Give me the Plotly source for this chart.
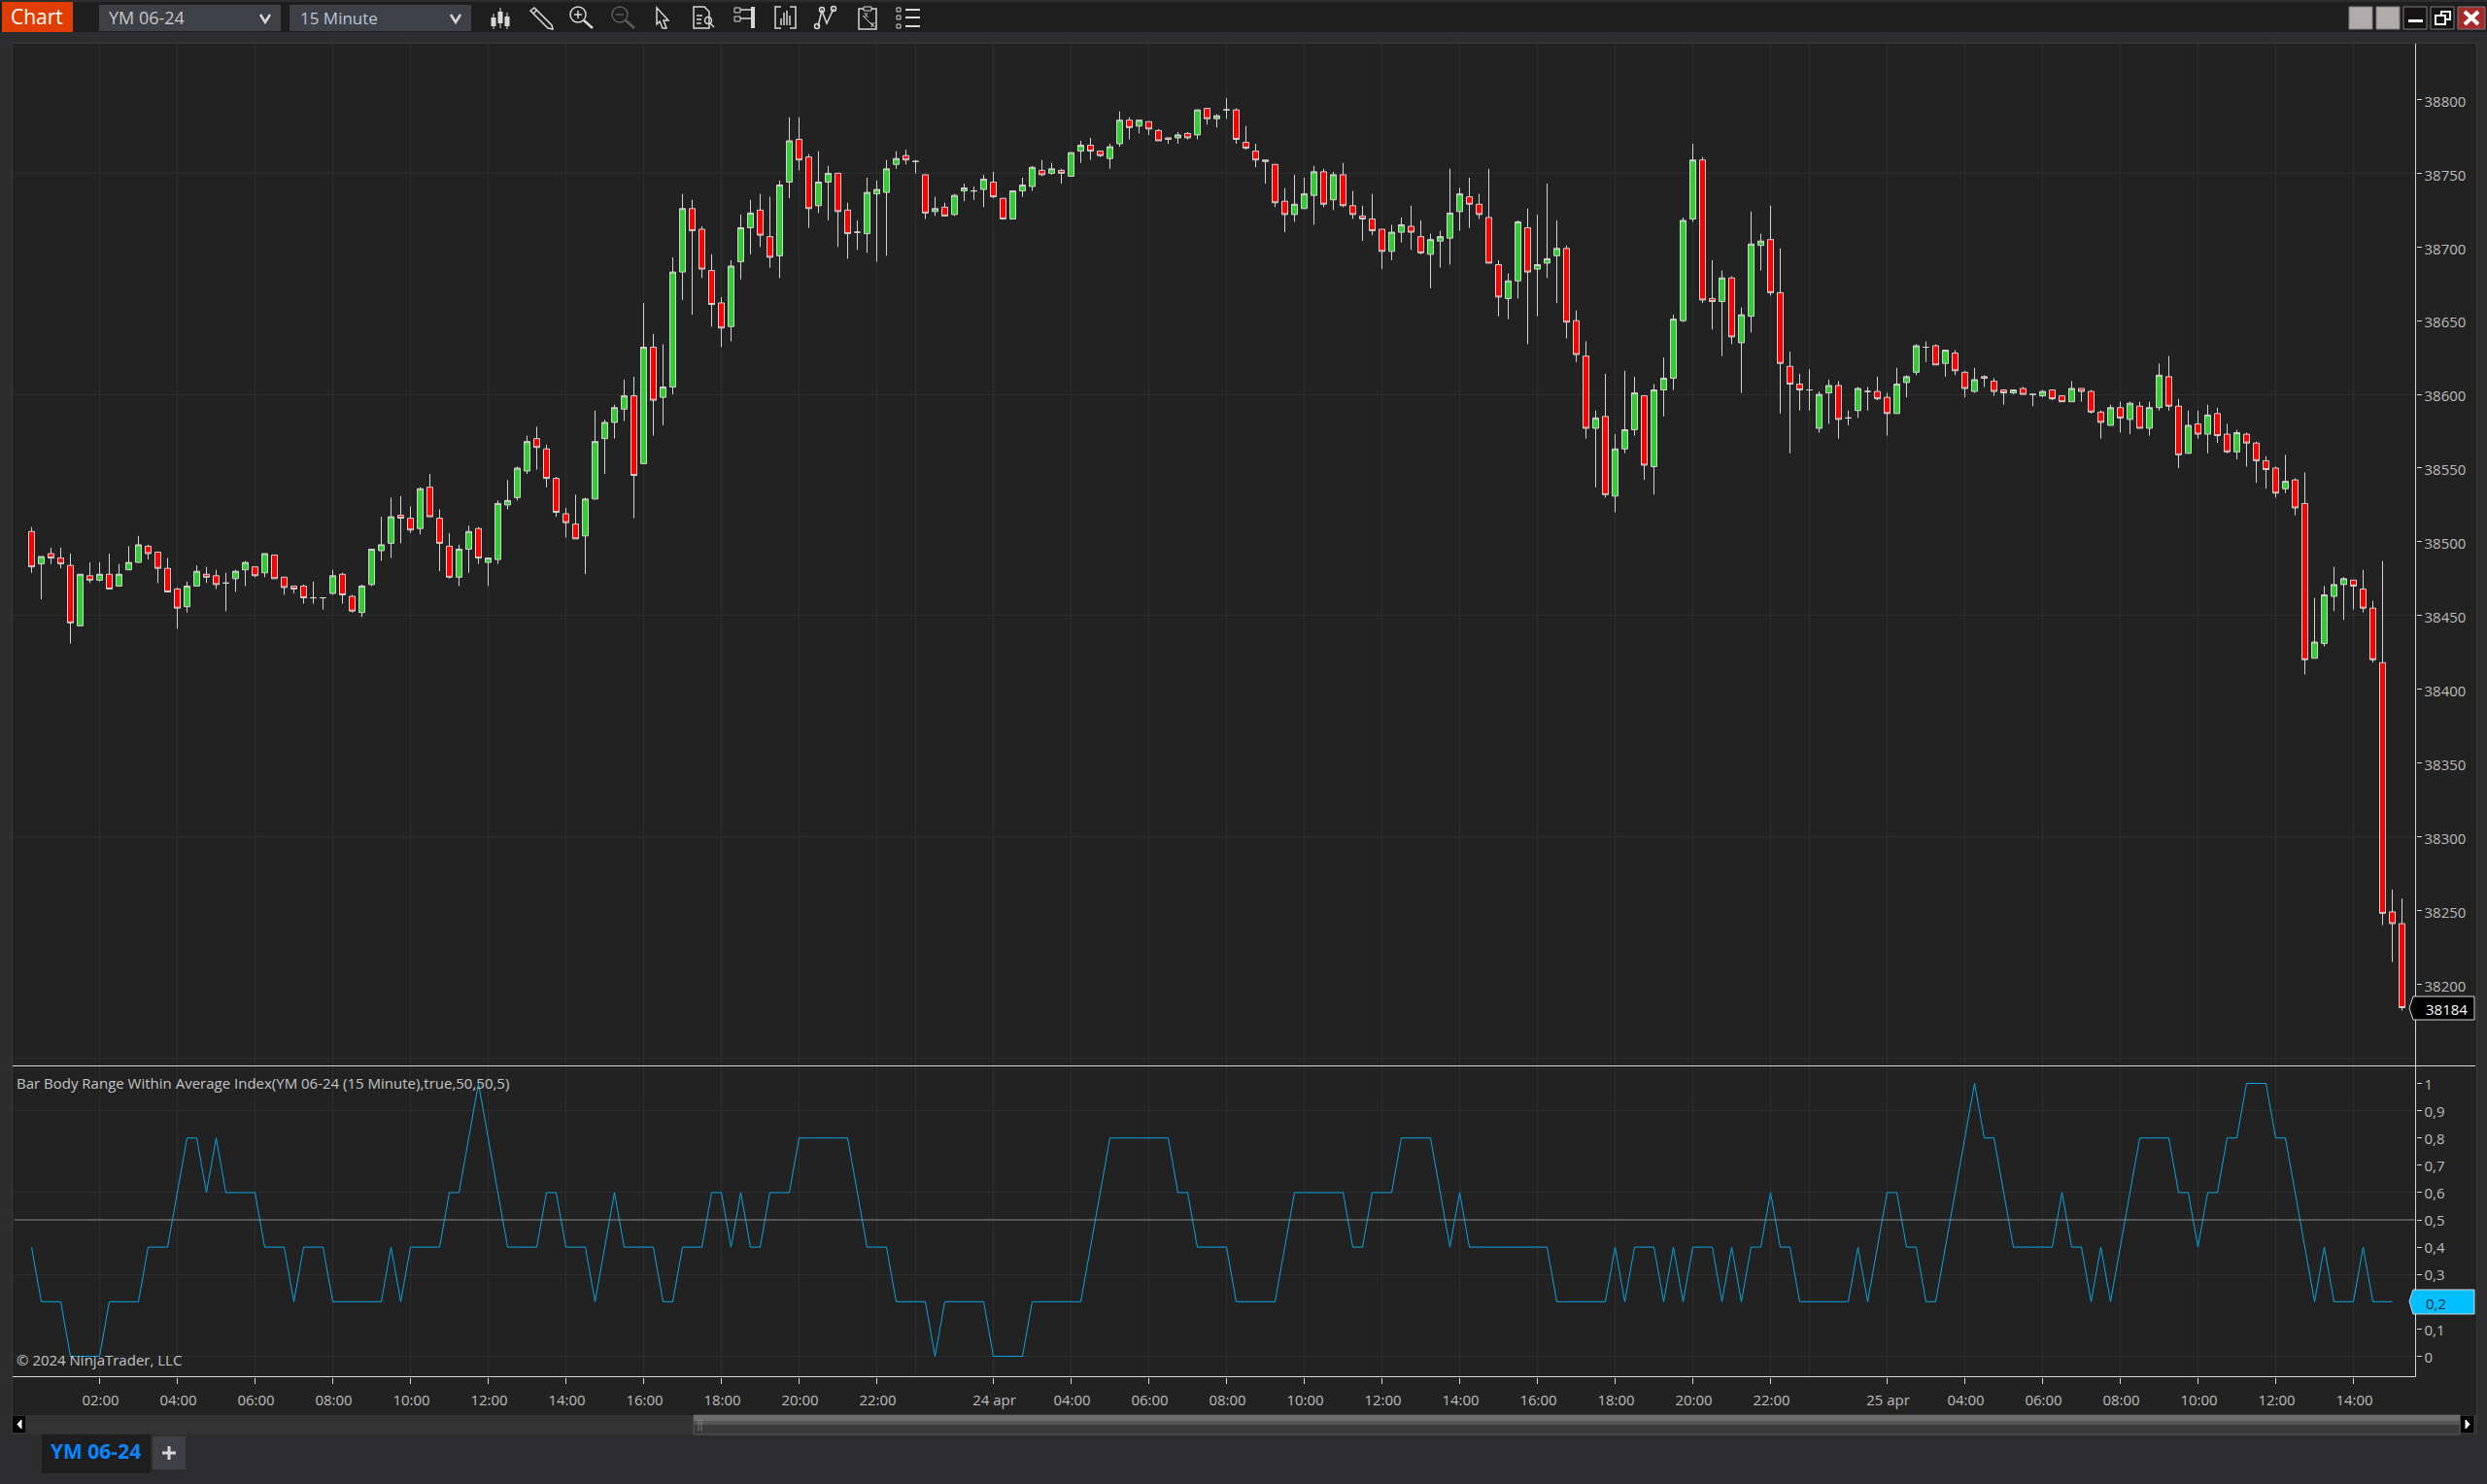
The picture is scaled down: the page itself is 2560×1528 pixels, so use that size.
import plotly.graph_objects as go

W, H = 2560, 1528

open_ = [38507,38485,38492,38489,38484,38443,38477,38474,38478,38470,
         38481,38486,38497,38493,38482,38468,38456,38470,38478,38477,
         38472,38475,38481,38483,38479,38491,38476,38470,38470,38462,
         38462,38465,38478,38463,38452,38471,38494,38499,38518,38516,
         38509,38537,38516,38497,38476,38495,38509,38486,38488,38525,
         38530,38548,38570,38563,38543,38519,38512,38504,38529,38570,
         38581,38590,38599,38553,38632,38598,38605,38683,38726,38712,
         38684,38662,38646,38690,38713,38725,38707,38694,38744,38773,
         38761,38728,38744,38750,38725,38710,38709,38736,38737,38756,
         38762,38758,38749,38724,38727,38722,38738,38738,38739,38744,
         38733,38719,38738,38741,38752,38750,38752,38748,38765,38769,
         38765,38760,38770,38786,38782,38785,38779,38774,38774,38777,
         38776,38794,38787,38793,38793,38771,38765,38759,38756,38731,
         38722,38726,38735,38751,38732,38749,38728,38721,38719,38712,
         38697,38710,38714,38707,38695,38704,38706,38724,38734,38729,
         38720,38688,38665,38677,38713,38685,38689,38694,38699,38650,
         38626,38577,38585,38531,38563,38576,38599,38551,38603,38611,
         38650,38719,38759,38665,38663,38679,38635,38653,38701,38705,
         38669,38619,38607,38603,38577,38601,38606,38584,38589,38602,
         38602,38598,38587,38608,38615,38632,38633,38621,38628,38615,
         38602,38612,38609,38603,38601,38604,38600,38599,38603,38599,
         38595,38604,38602,38588,38579,38591,38583,38592,38577,38591,
         38612,38592,38560,38580,38573,38587,38573,38561,38573,38567,
         38555,38550,38536,38542,38526,38421,38431,38463,38471,38474,
         38468,38455,38418,38249,38241]
high = [38510,38490,38496,38496,38492,38478,38486,38486,38492,38485,
        38497,38504,38498,38493,38489,38469,38473,38484,38483,38481,
        38479,38481,38487,38483,38492,38491,38476,38470,38471,38473,
        38462,38481,38479,38464,38471,38495,38517,38530,38531,38524,
        38537,38546,38522,38506,38498,38511,38510,38489,38528,38542,
        38551,38572,38578,38566,38544,38523,38532,38530,38589,38583,
        38593,38610,38612,38662,38641,38634,38693,38736,38732,38714,
        38695,38666,38691,38722,38732,38736,38734,38745,38788,38788,
        38763,38765,38755,38750,38730,38718,38747,38745,38759,38765,
        38766,38759,38749,38734,38730,38736,38743,38741,38749,38751,
        38733,38738,38747,38755,38759,38757,38753,38764,38772,38774,
        38765,38770,38792,38788,38786,38785,38780,38774,38778,38778,
        38793,38794,38790,38801,38794,38782,38770,38759,38756,38740,
        38749,38747,38755,38753,38751,38757,38738,38728,38736,38712,
        38715,38720,38728,38718,38709,38711,38753,38740,38747,38736,
        38753,38691,38682,38718,38726,38722,38743,38718,38701,38657,
        38636,38589,38614,38573,38616,38612,38599,38607,38625,38654,
        38720,38770,38761,38691,38684,38680,38659,38724,38709,38728,
        38699,38629,38614,38617,38602,38610,38609,38589,38605,38605,
        38612,38601,38618,38613,38634,38636,38634,38630,38630,38616,
        38618,38613,38611,38603,38603,38605,38600,38603,38603,38599,
        38609,38604,38603,38589,38593,38595,38595,38595,38595,38621,
        38626,38597,38589,38589,38593,38591,38580,38576,38574,38568,
        38558,38551,38559,38543,38547,38462,38470,38483,38476,38474,
        38481,38460,38487,38264,38258]
low = [38479,38461,38485,38482,38431,38443,38472,38473,38468,38470,
       38481,38486,38488,38472,38466,38441,38452,38470,38472,38468,
       38453,38466,38470,38476,38476,38475,38464,38465,38458,38458,
       38454,38464,38458,38452,38449,38470,38487,38489,38499,38506,
       38505,38517,38480,38475,38470,38479,38485,38470,38485,38522,
       38528,38546,38549,38537,38517,38503,38502,38478,38529,38546,
       38570,38582,38516,38553,38572,38579,38600,38664,38654,38679,
       38646,38632,38636,38678,38695,38700,38686,38679,38733,38752,
       38713,38723,38718,38700,38692,38698,38696,38690,38694,38753,
       38756,38750,38719,38721,38721,38721,38731,38732,38727,38733,
       38719,38719,38734,38738,38748,38749,38743,38748,38757,38759,
       38761,38753,38768,38773,38777,38776,38772,38770,38770,38773,
       38773,38783,38781,38787,38770,38766,38754,38743,38727,38710,
       38717,38726,38715,38727,38725,38727,38719,38704,38708,38685,
       38691,38703,38698,38695,38672,38686,38688,38711,38713,38719,
       38689,38653,38651,38665,38634,38653,38679,38662,38638,38622,
       38570,38537,38530,38520,38560,38572,38542,38532,38585,38603,
       38649,38717,38662,38644,38626,38634,38601,38642,38684,38667,
       38587,38560,38589,38589,38574,38580,38570,38579,38584,38589,
       38596,38572,38587,38598,38613,38622,38620,38612,38613,38598,
       38601,38605,38599,38593,38600,38600,38592,38598,38596,38595,
       38595,38595,38587,38570,38579,38574,38573,38577,38572,38589,
       38589,38550,38560,38570,38560,38567,38560,38556,38551,38540,
       38536,38530,38533,38518,38410,38421,38429,38453,38447,38454,
       38452,38418,38240,38215,38182]
close = [38483,38490,38489,38485,38445,38478,38474,38478,38468,38478,
         38486,38498,38492,38482,38466,38455,38470,38480,38476,38471,
         38472,38480,38486,38477,38492,38475,38469,38468,38462,38462,
         38462,38477,38464,38453,38470,38495,38498,38517,38516,38508,
         38536,38517,38499,38476,38495,38507,38489,38489,38526,38528,
         38550,38568,38564,38543,38520,38513,38502,38529,38568,38581,
         38591,38599,38545,38632,38596,38605,38683,38726,38711,38685,
         38661,38645,38687,38713,38723,38708,38693,38742,38772,38759,
         38726,38744,38750,38724,38709,38710,38737,38739,38753,38760,
         38759,38758,38723,38726,38721,38735,38740,38738,38746,38734,
         38719,38738,38742,38754,38749,38753,38750,38764,38769,38765,
         38762,38768,38786,38781,38786,38780,38772,38773,38776,38774,
         38793,38787,38789,38793,38773,38767,38759,38758,38730,38722,
         38729,38736,38751,38729,38749,38728,38722,38719,38711,38697,
         38710,38715,38710,38696,38705,38707,38723,38736,38729,38722,
         38689,38666,38677,38717,38683,38688,38692,38699,38649,38627,
         38577,38584,38532,38563,38576,38601,38552,38603,38611,38651,
         38718,38759,38664,38663,38679,38639,38654,38702,38704,38669,
         38621,38607,38603,38603,38600,38606,38583,38584,38604,38602,
         38597,38587,38607,38612,38633,38632,38620,38630,38616,38604,
         38610,38611,38602,38601,38603,38600,38600,38602,38597,38595,
         38604,38602,38588,38581,38591,38584,38594,38577,38591,38613,
         38592,38559,38579,38573,38586,38572,38561,38574,38567,38555,
         38549,38533,38541,38523,38420,38432,38464,38471,38475,38470,
         38455,38420,38248,38241,38184]

# indicator, one value short of the price bars
index_values = [.4,.2,.2,.2,0,0,0,0,.2,.2,.2,.2,.4,.4,.4,.6,.8,.8,.6,.8,
                .6,.6,.6,.6,.4,.4,.4,.2,.4,.4,.4,.2,.2,.2,.2,.2,.2,.4,.2,.4,
                .4,.4,.4,.6,.6,.8,1,.8,.6,.4,.4,.4,.4,.6,.6,.4,.4,.4,.2,.4,
                .6,.4,.4,.4,.4,.2,.2,.4,.4,.4,.6,.6,.4,.6,.4,.4,.6,.6,.6,.8,
                .8,.8,.8,.8,.8,.6,.4,.4,.4,.2,.2,.2,.2,0,.2,.2,.2,.2,.2,0,
                0,0,0,.2,.2,.2,.2,.2,.2,.4,.6,.8,.8,.8,.8,.8,.8,.8,.6,.6,
                .4,.4,.4,.4,.2,.2,.2,.2,.2,.4,.6,.6,.6,.6,.6,.6,.4,.4,.6,.6,
                .6,.8,.8,.8,.8,.6,.4,.6,.4,.4,.4,.4,.4,.4,.4,.4,.4,.2,.2,.2,
                .2,.2,.2,.4,.2,.4,.4,.4,.2,.4,.2,.4,.4,.4,.2,.4,.2,.4,.4,.6,
                .4,.4,.2,.2,.2,.2,.2,.2,.4,.2,.4,.6,.6,.4,.4,.2,.2,.4,.6,.8,
                1,.8,.8,.6,.4,.4,.4,.4,.4,.6,.4,.4,.2,.4,.2,.4,.6,.8,.8,.8,
                .8,.6,.6,.4,.6,.6,.8,.8,1,1,1,.8,.8,.6,.4,.2,.4,.2,.2,.2,
                .4,.2,.2,.2]

time_ticks = [7,15,23,31,39,47,55,63,71,79,87,99,107,115,123,131,139,147,155,163,171,179,191,199,207,215,223,231,239]
time_labels = ['02:00','04:00','06:00','08:00','10:00','12:00','14:00','16:00','18:00','20:00','22:00',
               '24 apr','04:00','06:00','08:00','10:00','12:00','14:00','16:00','18:00','20:00','22:00',
               '25 apr','04:00','06:00','08:00','10:00','12:00','14:00']
session_breaks = [91,183]

price_ticks = [38150,38200,38250,38300,38350,38400,38450,38500,38550,38600,38650,38700,38750,38800]
price_labels = ['','38200','38250','38300','38350','38400','38450','38500','38550','38600','38650','38700','38750','38800']
price_grid = [38150,38300,38450,38600,38750]

index_ticks = [0,.1,.2,.3,.4,.5,.6,.7,.8,.9,1]
index_labels = ['0','0,1','0,2','0,3','0,4','0,5','0,6','0,7','0,8','0,9','1']
index_grid = [0,.3,.6,.9]
index_level = .5

BG = '#222222'
GRID = '#2e2e2e'
AXIS = '#d8d8d8'
TICK = '#bcbcbc'
WICK = '#d3d3d3'
FONT = 'Open Sans'

# panels in pixels, half pixels keep the 1px strokes sharp
left, right = 14.5, 2486.5
top1, bot1 = 44.5, 1097.5
bot2 = 1417.5
x_range = [(left-32.5)/10, (right-32.5)/10]
y_range1 = [38144.5, 38838.2]
y_range2 = [-.0747, 1.0641]

shapes = []
annos = []

def px(x):
    return x/W

def py(y):
    return 1-y/H

def rect(x0, y0, x1, y1, fill, line=None, lw=1, layer='above'):
    shapes.append(dict(type='rect', xref='paper', yref='paper', x0=px(x0), x1=px(x1), y0=py(y0), y1=py(y1),
                       fillcolor=fill, line=dict(color=line or fill, width=lw if line else 0), layer=layer))

def seg(x0, y0, x1, y1, color, lw=1.5, layer='above'):
    shapes.append(dict(type='line', xref='paper', yref='paper', x0=px(x0), x1=px(x1), y0=py(y0), y1=py(y1),
                       line=dict(color=color, width=lw), layer=layer))

def poly(points, fill=None, line='#d8d8d8', lw=1.5, closed=True):
    d = 'M' + ' L'.join('%.5f,%.5f' % (px(a), py(b)) for a, b in points) + (' Z' if closed else '')
    shapes.append(dict(type='path', xref='paper', yref='paper', path=d, fillcolor=fill or 'rgba(0,0,0,0)',
                       line=dict(color=line, width=lw), layer='above'))

def circle(cx, cy, r, color, lw=1.5):
    shapes.append(dict(type='circle', xref='paper', yref='paper', x0=px(cx-r), x1=px(cx+r), y0=py(cy+r), y1=py(cy-r),
                       line=dict(color=color, width=lw), layer='above'))

def text(x, y, s, size=15, color='#c4c4c4', anchor='left', bold=False):
    annos.append(dict(xref='paper', yref='paper', x=px(x), y=py(y), text='<b>%s</b>' % s if bold else s, showarrow=False,
                      xanchor=anchor, yanchor='middle', font=dict(family=FONT, size=size, color=color)))

# window chrome
rect(12, 44, 2549, 1477, BG, layer='below')
rect(0, 2, 2560, 33, '#1e1e1e', layer='below')
rect(2, 2, 75, 33, '#e03e00')
text(38, 17, 'Chart', 21, '#ffffff', 'center')
rect(102, 5, 289, 32, '#3f3f46')
text(110, 18, 'YM 06-24', 18, '#c8c8c8')
rect(298, 5, 485, 32, '#3f3f46')
text(307, 18, '15 Minute', 17, '#b4c8dc')
for cx in [273, 469]:
    poly([(cx-5, 15), (cx, 23), (cx+5, 15)], None, '#d8d8d8', 2.5, False)

ICON = '#d8d8d8'
# chart style
for cx, a, b, c, d in [(508, 14, 18, 27, 30), (515, 8, 12, 24, 29), (522, 13, 17, 27, 30)]:
    seg(cx, a, cx, d, ICON, 1)
    rect(cx-2.5, b, cx+2.5, c, ICON)
# drawing tool
poly([(546, 11), (550, 8), (568, 26), (569, 30), (564, 29)], None, ICON, 1.5)
seg(549, 14, 553, 10, ICON, 1.5)
# zoom in, zoom out
circle(595, 15, 8, ICON)
seg(591, 15, 599, 15, ICON)
seg(595, 11, 595, 19, ICON)
seg(601, 21, 610, 29, ICON, 2.5)
circle(638, 15, 8, '#5c5c5c')
seg(634, 15, 642, 15, '#5c5c5c')
seg(644, 21, 653, 29, '#5c5c5c', 2.5)
# pointer
poly([(676, 8), (688, 21), (683, 21), (686, 29), (682, 29), (679, 22), (676, 25)], None, ICON, 1.5)
# properties page
poly([(714, 7), (725, 7), (730, 12), (730, 29), (714, 29)], None, ICON, 1.5)
seg(717, 16, 723, 16, ICON)
seg(717, 20, 722, 20, ICON)
seg(717, 24, 722, 24, ICON)
circle(729, 21, 3.5, ICON)
seg(731, 24, 735, 28, ICON)
# templates
rect(756, 8, 762, 13, '#1e1e1e', ICON)
rect(756, 17, 762, 22, '#1e1e1e', ICON)
seg(762, 10, 773, 10, ICON)
seg(762, 19, 773, 19, ICON)
rect(773, 7, 777, 29, ICON)
# data box
poly([(804, 7), (798, 7), (798, 29), (804, 29)], None, ICON, 1.5, False)
poly([(813, 7), (819, 7), (819, 29), (813, 29)], None, ICON, 1.5, False)
for bx, ty in [(804, 19), (807, 13), (810, 11), (813, 16)]:
    seg(bx, ty, bx, 26, ICON, 1.5)
# indicators
poly([(842, 27), (846, 11), (851, 24), (858, 9)], None, ICON, 1.5, False)
circle(841, 27, 2.5, ICON)
circle(846, 10, 2.5, ICON)
circle(858, 9, 2.5, ICON)
# strategies
poly([(884, 9), (902, 9), (902, 30), (884, 30)], None, ICON, 1.5)
rect(889, 7, 897, 11, '#1e1e1e', ICON)
seg(888, 16, 898, 26, ICON, 1)
text(891, 15, 'x', 9, ICON, 'center')
text(898, 25, 'x', 9, ICON, 'center')
# object list
for ly in [10, 18, 27]:
    rect(923, ly-2, 927, ly+2, '#1e1e1e', ICON)
    seg(932, ly, 947, ly, ICON, 2)

# window buttons
rect(2418, 7, 2442, 30, '#b0acac', '#7c7c7c')
rect(2446, 7, 2470, 30, '#b0acac', '#7c7c7c')
rect(2474, 7, 2498, 30, '#151313', '#7c7c7c')
rect(2479, 20, 2494, 23, '#ffffff')
rect(2502, 7, 2526, 30, '#151313', '#7c7c7c')
rect(2513, 12, 2522, 20, '#151313', '#ffffff', 2)
rect(2507, 16, 2517, 25, '#151313', '#ffffff', 2)
rect(2530, 7, 2558, 30, '#a52a2a', '#7c7c7c')
seg(2537, 12, 2551, 25, '#ffffff', 4)
seg(2551, 12, 2537, 25, '#ffffff', 4)

# panel lines
seg(12, bot1, 2548, bot1, AXIS, 1)
seg(12, bot2, right, bot2, AXIS, 1)
seg(right, top1, right, bot2, AXIS, 1)
seg(12, 44.5, 2549, 44.5, '#3a3a3a', 1)
seg(12.5, 44, 12.5, 1477, '#3a3a3a', 1)
seg(2549.5, 44, 2549.5, 1477, '#3a3a3a', 1)

shapes.append(dict(type='line', xref='x2', yref='y2', x0=x_range[0], x1=x_range[1], y0=index_level, y1=index_level,
                   line=dict(color='#8c8c8c', width=1), layer='above'))

# last value markers
poly([(2484, 1026), (2547, 1026), (2547, 1050), (2484, 1050), (2480, 1038)], '#000000', '#d8d8d8', 1)
annos.append(dict(xref='paper', yref='y', x=px(2495), y=close[-1], text=str(close[-1]), showarrow=False, xanchor='left', yshift=-1,
                  font=dict(family=FONT, size=15, color='#ffffff')))
poly([(2484, 1328), (2547, 1328), (2547, 1353), (2484, 1353), (2480, 1340)], '#00bfff', '#d8d8d8', 1)
annos.append(dict(xref='paper', yref='y2', x=px(2495), y=index_values[-1], text=index_labels[index_ticks.index(index_values[-1])],
                  showarrow=False, xanchor='left', yshift=-2, font=dict(family=FONT, size=15, color='#303030')))

# labels in the panels
text(15, 1115, 'Bar Body Range Within Average Index(YM 06-24 (15 Minute),true,50,50,5)', 15, '#c4c4c4')
text(15, 1400, '© 2024 NinjaTrader, LLC', 15, '#c4c4c4')

# scrollbar and tabs
rect(13, 1457, 2549, 1477, '#333333', layer='below')
rect(714, 1457, 2532, 1477, '#3a3a3a', '#565656')
rect(714, 1457, 2532, 1463, '#6c6c6c')
rect(714, 1463, 2532, 1467, '#565656')
seg(719, 1461, 719, 1473, '#7c7c7c', 1)
seg(722, 1461, 722, 1473, '#7c7c7c', 1)
rect(13, 1458, 26, 1475, '#000000')
poly([(22, 1462), (22, 1471), (18, 1466.5)], '#ffffff', '#ffffff', 1)
rect(2533, 1458, 2546, 1475, '#000000')
poly([(2538, 1462), (2538, 1471), (2542, 1466.5)], '#ffffff', '#ffffff', 1)
rect(43, 1477, 155, 1517, '#1e1e1e')
text(98, 1494, 'YM 06-24', 21, '#0a84ff', 'center', True)
rect(157, 1479, 191, 1513, '#3f3f46')
seg(167, 1496, 181, 1496, '#d8d8d8', 3)
seg(174, 1489, 174, 1503, '#d8d8d8', 3)

bars = list(range(len(close)))

fig = go.Figure()
fig.add_trace(go.Candlestick(x=bars, open=open_, high=high, low=low, close=close,
                             increasing=dict(fillcolor='#32cd32', line=dict(color=WICK, width=1)),
                             decreasing=dict(fillcolor='#ff0000', line=dict(color=WICK, width=1)),
                             whiskerwidth=0, showlegend=False, xaxis='x', yaxis='y'))
fig.add_trace(go.Scatter(x=bars[:len(index_values)], y=index_values, mode='lines',
                         line=dict(color='#0aa5e0', width=1), showlegend=False, xaxis='x2', yaxis='y2'))

fig.update_layout(
    width=W, height=H,
    margin=dict(l=0, r=0, t=0, b=0),
    paper_bgcolor='#2d2d30',
    plot_bgcolor=BG,
    font=dict(family=FONT, color=TICK, size=15),
    shapes=shapes,
    annotations=annos,
    showlegend=False,
    boxgap=.4,
    boxgroupgap=0,
    xaxis=dict(domain=[left/W, right/W], range=x_range, anchor='y', rangeslider=dict(visible=False),
               tickmode='array', tickvals=time_ticks, ticktext=time_labels, showticklabels=False, ticks='',
               showgrid=True, gridcolor=GRID, gridwidth=1, zeroline=False,
               minor=dict(tickmode='array', tickvals=session_breaks, ticks='', showgrid=True, gridcolor=GRID)),
    xaxis2=dict(domain=[left/W, right/W], range=x_range, anchor='y2',
                tickmode='array', tickvals=time_ticks, ticktext=time_labels,
                ticks='outside', ticklen=6, tickcolor=AXIS, ticklabelstandoff=4, ticklabelshift=1,
                tickfont=dict(family=FONT, size=15, color=TICK),
                showgrid=True, gridcolor=GRID, gridwidth=1, zeroline=False,
                minor=dict(tickmode='array', tickvals=session_breaks, ticks='', showgrid=True, gridcolor=GRID)),
    # grid runs at a wider step than the labels, so it goes on the minor ticks
    yaxis=dict(domain=[1-bot1/H, 1-top1/H], range=y_range1, side='right', anchor='x',
               tickmode='array', tickvals=price_ticks, ticktext=price_labels,
               ticks='outside', ticklen=5, tickcolor=AXIS, showgrid=False, zeroline=False, ticklabelshift=2,
               tickfont=dict(family=FONT, size=15, color=TICK),
               minor=dict(tickmode='array', tickvals=price_grid, ticks='inside', ticklen=0, showgrid=True, gridcolor=GRID)),
    yaxis2=dict(domain=[1-bot2/H, 1-bot1/H], range=y_range2, side='right', anchor='x2',
                tickmode='array', tickvals=index_ticks, ticktext=index_labels,
                ticks='outside', ticklen=5, tickcolor=AXIS, showgrid=False, zeroline=False, ticklabelshift=1,
                tickfont=dict(family=FONT, size=15, color=TICK),
                minor=dict(tickmode='array', tickvals=index_grid, ticks='inside', ticklen=0, showgrid=True, gridcolor=GRID)),
)

fig.write_html("out.html", config=dict(displayModeBar=False),
               post_script="document.body.style.margin='0';")
